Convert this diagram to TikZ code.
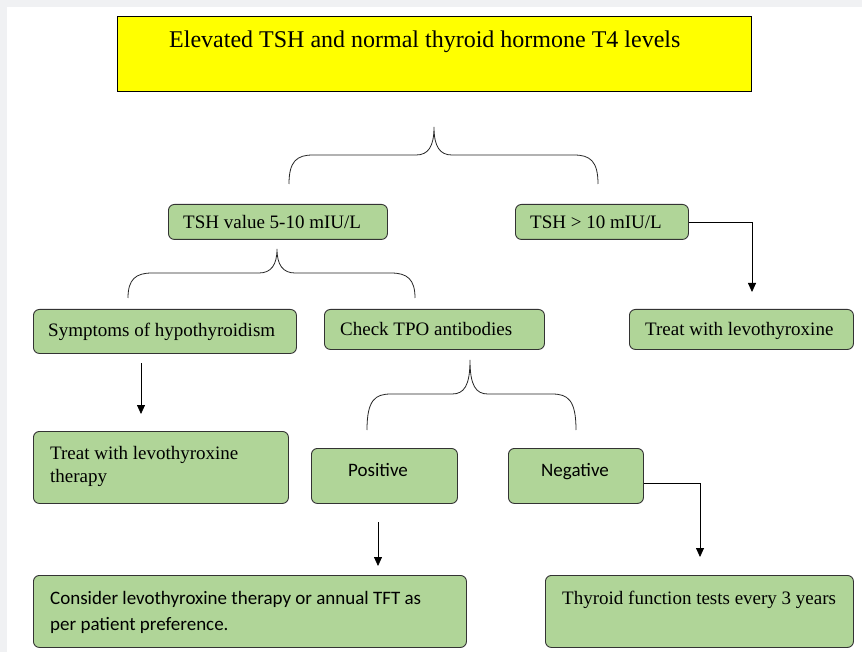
\documentclass[tikz,border=0pt]{standalone}
\usepackage{fontspec}
\setmainfont{Liberation Serif}
\newfontfamily\calib{Carlito}
\usetikzlibrary{arrows.meta,calc}
\definecolor{boxgreen}{RGB}{176,213,152}
\definecolor{ttlyellow}{RGB}{255,255,0}
\definecolor{bggray}{RGB}{240,241,243}
\newcommand{\mybrace}[6]{%
  \draw[brace] (#1,#4) .. controls (#1,#5+6) and (#1+8,#5) .. (#1+24,#5)
    -- (#2-18,#5) .. controls (#2-6,#5) and (#2,#5-8) .. (#2,#6)
    .. controls (#2,#5-8) and (#2+6,#5) .. (#2+18,#5)
    -- (#3-24,#5) .. controls (#3-8,#5) and (#3,#5+6) .. (#3,#4);}
\begin{document}
\begin{tikzpicture}[x=1pt,y=-1pt,
  box/.style={draw=black!80, fill=boxgreen, rounded corners=6pt, line width=0.9pt, inner sep=0pt, anchor=north west},
  ttlbox/.style={draw=black, fill=ttlyellow, line width=0.8pt, inner sep=0pt, anchor=north west},
  txt/.style={font=\fontsize{19}{23}\selectfont, inner sep=0pt, anchor=base west, align=left},
  stxt/.style={font=\calib\fontsize{19}{26}\selectfont, inner sep=0pt, anchor=base west, align=left},
  arr/.style={-{Triangle[width=8pt,length=9pt]}, line width=0.8pt},
  brace/.style={line width=0.8pt, black!85}]
\useasboundingbox (0,0) rectangle (862,652);
\fill[bggray] (0,0) rectangle (862,652);
\fill[white] (7,7) rectangle (862,652);

% boxes
\node[ttlbox, minimum width=634, minimum height=75] (title) at (117,16) {};
\node[box, minimum width=219, minimum height=35] (tsh1) at (168,204) {};
\node[box, minimum width=173, minimum height=35] (tsh2) at (515,204) {};
\node[box, minimum width=263, minimum height=44] (symp) at (33,309) {};
\node[box, minimum width=220, minimum height=40] (tpo) at (324,309) {};
\node[box, minimum width=224, minimum height=40] (treat1) at (629,309) {};
\node[box, minimum width=255, minimum height=72] (treat2) at (33,431) {};
\node[box, minimum width=146, minimum height=55] (pos) at (311,448) {};
\node[box, minimum width=135, minimum height=55] (neg) at (508,448) {};
\node[box, minimum width=433, minimum height=72] (cons) at (33,575) {};
\node[box, minimum width=308, minimum height=72] (tft) at (545,575) {};

% texts
\node[txt, font=\fontsize{24}{28}\selectfont] (titletxt) at (169,48) {Elevated TSH and normal thyroid hormone T4 levels};
\node[txt] (tsh1txt) at (183,229) {TSH value 5-10 mIU/L};
\node[txt] (tsh2txt) at (530,229) {TSH > 10 mIU/L};
\node[txt] (symptxt) at (48,336) {Symptoms of hypothyroidism};
\node[txt] (tpotxt) at (340,335) {Check TPO antibodies};
\node[txt] (treat1txt) at (645,335) {Treat with levothyroxine};
\node[txt] (treat2txt) at (50,482) {Treat with levothyroxine\\therapy};
\node[stxt] (postxt) at (348,476) {Positive};
\node[stxt] (negtxt) at (541,476) {Negative};
\node[stxt] (constxt) at (50,630) {Consider levothyroxine therapy or annual TFT as\\per patient preference.};
\node[txt] (tfttxt) at (562,604) {Thyroid function tests every 3 years};

% braces
\mybrace{289}{434}{598}{184}{155}{127}
\mybrace{128}{277}{415}{298}{273}{249}
\mybrace{367}{470}{576}{430}{394}{360}

% arrows
\coordinate (a1) at (752,292);
\draw[arr] (tsh2.east) -| (a1);
\coordinate (s0) at (141,363);
\coordinate (s1) at (141,414);
\draw[arr] (s0) -- (s1);
\coordinate (p0) at (378,522);
\coordinate (p1) at (378,566);
\draw[arr] (p0) -- (p1);
\coordinate (n0) at ($(neg.east)+(0,7)$);
\coordinate (n1) at (700,557);
\draw[arr] (n0) -| (n1);
\end{tikzpicture}
\end{document}
